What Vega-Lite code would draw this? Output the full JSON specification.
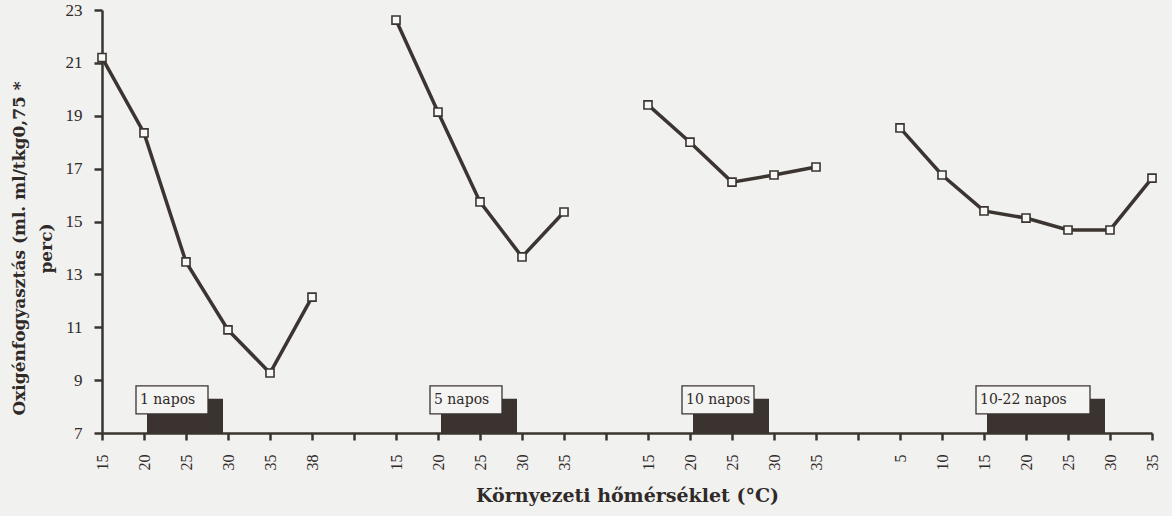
{
  "$schema": "https://vega.github.io/schema/vega-lite/v6.json",
  "width": 1050,
  "height": 423,
  "autosize": {"type": "none"},
  "padding": {"left": 102, "top": 10, "right": 20, "bottom": 83},
  "background": "#f1f1ef",
  "config": {
    "view": {"stroke": null},
    "font": "Liberation Serif",
    "axis": {"grid": false, "domainColor": "#3a3430", "tickColor": "#3a3430", "labelColor": "#2f2a28", "titleColor": "#2f2a28", "labelFont": "Liberation Serif", "titleFont": "DejaVu Serif"}
  },
  "datasets": {
    "pts": [
      {"g": "1 napos", "t": 15, "v": 21.2},
      {"g": "1 napos", "t": 20, "v": 18.35},
      {"g": "1 napos", "t": 25, "v": 13.47},
      {"g": "1 napos", "t": 30, "v": 10.9},
      {"g": "1 napos", "t": 35, "v": 9.27},
      {"g": "1 napos", "t": 38, "v": 12.14},
      {"g": "5 napos", "t": 15, "v": 22.62},
      {"g": "5 napos", "t": 20, "v": 19.14},
      {"g": "5 napos", "t": 25, "v": 15.74},
      {"g": "5 napos", "t": 30, "v": 13.66},
      {"g": "5 napos", "t": 35, "v": 15.36},
      {"g": "10 napos", "t": 15, "v": 19.41},
      {"g": "10 napos", "t": 20, "v": 18.0},
      {"g": "10 napos", "t": 25, "v": 16.49},
      {"g": "10 napos", "t": 30, "v": 16.76},
      {"g": "10 napos", "t": 35, "v": 17.06},
      {"g": "10-22 napos", "t": 5, "v": 18.54},
      {"g": "10-22 napos", "t": 10, "v": 16.76},
      {"g": "10-22 napos", "t": 15, "v": 15.4},
      {"g": "10-22 napos", "t": 20, "v": 15.13},
      {"g": "10-22 napos", "t": 25, "v": 14.68},
      {"g": "10-22 napos", "t": 30, "v": 14.68},
      {"g": "10-22 napos", "t": 35, "v": 16.64}
    ],
    "labels": [
      {"label": "1 napos", "from": "1 napos|20", "to": "1 napos|30"},
      {"label": "5 napos", "from": "5 napos|20", "to": "5 napos|30"},
      {"label": "10 napos", "from": "10 napos|20", "to": "10 napos|30"},
      {"label": "10-22 napos", "from": "10-22 napos|15", "to": "10-22 napos|30"}
    ]
  },
  "layer": [
    {
      "data": {"name": "pts"},
      "transform": [{"calculate": "datum.g + '|' + datum.t", "as": "key"}],
      "mark": {"type": "line", "color": "#3b3431", "strokeWidth": 3.5},
      "encoding": {
        "x": {"field": "key", "type": "nominal", "sort": null,
          "scale": {"type": "point", "padding": 0, "domain": ["1 napos|15","1 napos|20","1 napos|25","1 napos|30","1 napos|35","1 napos|38","gap1","5 napos|15","5 napos|20","5 napos|25","5 napos|30","5 napos|35","gap2","10 napos|15","10 napos|20","10 napos|25","10 napos|30","10 napos|35","gap3","10-22 napos|5","10-22 napos|10","10-22 napos|15","10-22 napos|20","10-22 napos|25","10-22 napos|30","10-22 napos|35"]},
          "axis": {"title": "Környezeti hőmérséklet (°C)", "titleFontSize": 19, "titleFontWeight": "bold", "titleY": 68, "titleBaseline": "alphabetic", "labelAngle": -90, "labelAlign": "right", "labelBaseline": "middle", "labelFontSize": 16, "labelPadding": 14, "tickSize": 7, "tickWidth": 2.5, "domainWidth": 2.5, "labelExpr": "indexof(datum.value, '|') > 0 ? split(datum.value, '|')[1] : ''"}},
        "y": {"field": "v", "type": "quantitative",
          "scale": {"domain": [7, 23], "nice": false, "zero": false},
          "axis": {"values": [7, 9, 11, 13, 15, 17, 19, 21, 23], "title": ["Oxigénfogyasztás  (ml. ml/tkg0,75 *", "perc)"], "titleFontSize": 17, "titleFontWeight": "bold", "titleAngle": -90, "titleX": -83, "titleY": 238, "titleAlign": "center", "titleBaseline": "middle", "titleLineHeight": 27, "labelFontSize": 17, "labelPadding": 12, "tickSize": 8, "tickWidth": 2.5, "domainWidth": 2.5}},
        "detail": {"field": "g"}
      }
    },
    {
      "data": {"name": "labels"},
      "mark": {"type": "rect", "color": "#3a3330", "xOffset": 3, "x2Offset": -5},
      "encoding": {
        "x": {"field": "from", "type": "nominal", "scale": {"type": "point", "padding": 0, "domain": ["1 napos|15","1 napos|20","1 napos|25","1 napos|30","1 napos|35","1 napos|38","gap1","5 napos|15","5 napos|20","5 napos|25","5 napos|30","5 napos|35","gap2","10 napos|15","10 napos|20","10 napos|25","10 napos|30","10 napos|35","gap3","10-22 napos|5","10-22 napos|10","10-22 napos|15","10-22 napos|20","10-22 napos|25","10-22 napos|30","10-22 napos|35"]}},
        "x2": {"field": "to"},
        "y": {"datum": 7},
        "y2": {"datum": 8.3}
      }
    },
    {
      "data": {"name": "labels"},
      "mark": {"type": "rect", "fill": "#f4f4f2", "stroke": "#3a3330", "strokeWidth": 1.3, "xOffset": -8, "x2Offset": -20},
      "encoding": {
        "x": {"field": "from", "type": "nominal", "scale": {"type": "point", "padding": 0, "domain": ["1 napos|15","1 napos|20","1 napos|25","1 napos|30","1 napos|35","1 napos|38","gap1","5 napos|15","5 napos|20","5 napos|25","5 napos|30","5 napos|35","gap2","10 napos|15","10 napos|20","10 napos|25","10 napos|30","10 napos|35","gap3","10-22 napos|5","10-22 napos|10","10-22 napos|15","10-22 napos|20","10-22 napos|25","10-22 napos|30","10-22 napos|35"]}},
        "x2": {"field": "to"},
        "y": {"datum": 7.72},
        "y2": {"datum": 8.78}
      }
    },
    {
      "data": {"name": "labels"},
      "mark": {"type": "text", "align": "left", "baseline": "middle", "xOffset": -4, "font": "DejaVu Serif", "fontSize": 14, "color": "#2f2a28"},
      "encoding": {
        "x": {"field": "from", "type": "nominal", "scale": {"type": "point", "padding": 0, "domain": ["1 napos|15","1 napos|20","1 napos|25","1 napos|30","1 napos|35","1 napos|38","gap1","5 napos|15","5 napos|20","5 napos|25","5 napos|30","5 napos|35","gap2","10 napos|15","10 napos|20","10 napos|25","10 napos|30","10 napos|35","gap3","10-22 napos|5","10-22 napos|10","10-22 napos|15","10-22 napos|20","10-22 napos|25","10-22 napos|30","10-22 napos|35"]}},
        "y": {"datum": 8.25},
        "text": {"field": "label"}
      }
    },
    {
      "data": {"name": "pts"},
      "transform": [{"calculate": "datum.g + '|' + datum.t", "as": "key"}],
      "mark": {"type": "point", "shape": "square", "filled": true, "fill": "#f7f7f5", "stroke": "#3b3431", "strokeWidth": 1.6, "size": 65, "opacity": 1},
      "encoding": {
        "x": {"field": "key", "type": "nominal", "sort": null, "scale": {"type": "point", "padding": 0, "domain": ["1 napos|15","1 napos|20","1 napos|25","1 napos|30","1 napos|35","1 napos|38","gap1","5 napos|15","5 napos|20","5 napos|25","5 napos|30","5 napos|35","gap2","10 napos|15","10 napos|20","10 napos|25","10 napos|30","10 napos|35","gap3","10-22 napos|5","10-22 napos|10","10-22 napos|15","10-22 napos|20","10-22 napos|25","10-22 napos|30","10-22 napos|35"]}},
        "y": {"field": "v", "type": "quantitative"}
      }
    }
  ]
}
